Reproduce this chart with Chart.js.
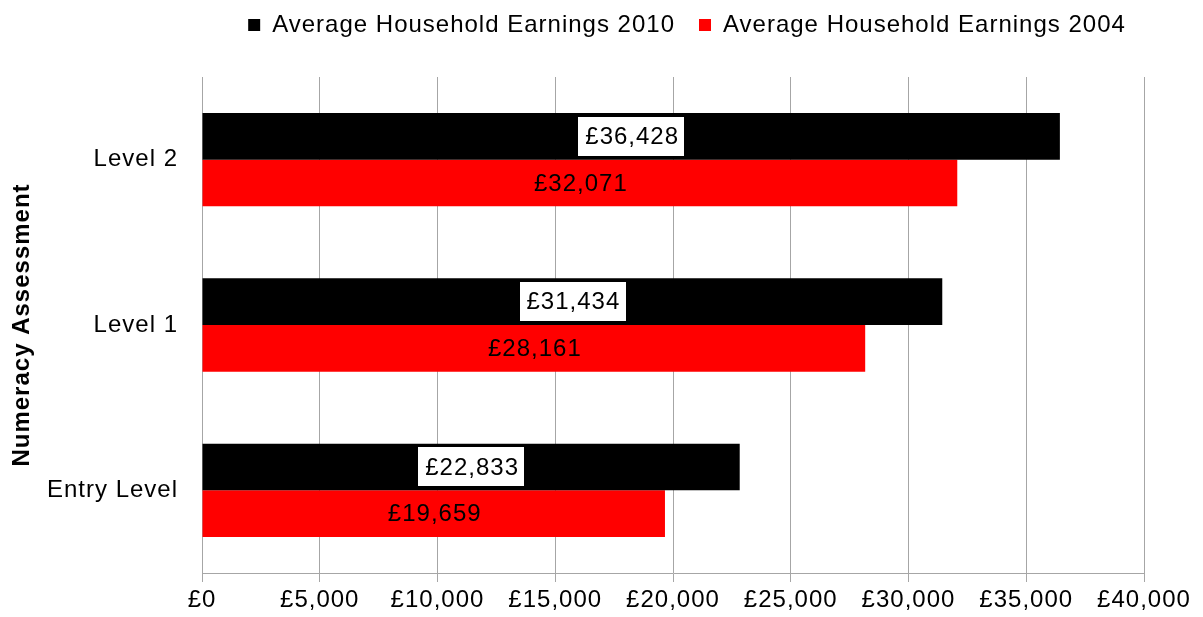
<!DOCTYPE html>
<html>
<head>
<meta charset="utf-8">
<script src="https://cdn.jsdelivr.net/npm/chart.js@4/dist/chart.umd.min.js"></script>
<style>
html,body{margin:0;padding:0;background:#fff;}
#wrap{width:1203px;height:617px;position:relative;}
</style>
</head>
<body>
<div id="wrap"><canvas id="c" width="1203" height="617"></canvas></div>
<script>
const categories = ['Level 2', 'Level 1', 'Entry Level'];
const seriesNames = ['Average Household Earnings 2010', 'Average Household Earnings 2004'];
const earnings2010 = [36428, 31434, 22833];
const earnings2004 = [32071, 28161, 19659];
const xTickMin = 0;
const xTickMax = 40000;
const xTickStep = 5000;
const axisTitle = 'Numeracy Assessment';

const FONT = "'Liberation Sans', Arial, sans-serif";
const SPACING = '1px';
const fmt = v => '£' + Number(v).toLocaleString('en-GB');

const spacingPlugin = {
  id: 'letterSpacing',
  beforeUpdate(chart) { chart.ctx.letterSpacing = SPACING; },
  beforeLayout(chart) { chart.ctx.letterSpacing = SPACING; },
  beforeDraw(chart) { chart.ctx.letterSpacing = SPACING; }
};

const labelPlugin = {
  id: 'barLabels',
  afterDatasetsDraw(chart) {
    const ctx = chart.ctx;
    ctx.save();
    ctx.letterSpacing = SPACING;
    ctx.font = '24px ' + FONT;
    ctx.textAlign = 'center';
    ctx.textBaseline = 'middle';
    chart.data.datasets.forEach((ds, di) => {
      const meta = chart.getDatasetMeta(di);
      meta.data.forEach((bar, i) => {
        const v = ds.data[i];
        const txt = fmt(v);
        const cx = (bar.x + bar.base) / 2;
        const cy = bar.y;
        if (di === 0) {
          const w = ctx.measureText(txt).width + 12;
          const h = 39;
          ctx.fillStyle = '#ffffff';
          ctx.fillRect(Math.round(cx - w / 2), Math.round(cy - h / 2), Math.round(w), h);
        }
        ctx.fillStyle = '#000000';
        ctx.fillText(txt, cx + 1, cy + 1);
      });
    });
    ctx.restore();
  }
};

const legendPlugin = {
  id: 'legendPlace',
  beforeInit(chart) {
    const origFit = chart.legend.fit;
    chart.legend.fit = function () {
      origFit.bind(chart.legend)();
      this.height = 74;
    };
  },
  afterLayout(chart) {
    const lg = chart.legend;
    lg.left = 214;
    lg.right = 1160;
    lg.top = -11;
  }
};

new Chart(document.getElementById('c'), {
  type: 'bar',
  data: {
    labels: categories,
    datasets: [
      { label: seriesNames[0], data: earnings2010, backgroundColor: '#000000', borderWidth: 0,
        categoryPercentage: 0.565, barPercentage: 1.0 },
      { label: seriesNames[1], data: earnings2004, backgroundColor: '#ff0000', borderWidth: 0,
        categoryPercentage: 0.565, barPercentage: 1.0 }
    ]
  },
  options: {
    indexAxis: 'y',
    responsive: false,
    animation: false,
    devicePixelRatio: 1,
    layout: { padding: { top: 3, right: 59, left: 0, bottom: 0 } },
    plugins: {
      legend: {
        position: 'top',
        labels: {
          font: { family: FONT, size: 24 },
          color: '#000',
          boxWidth: 12,
          boxHeight: 12,
          padding: 24
        }
      },
      tooltip: { enabled: false },
      title: { display: false }
    },
    scales: {
      x: {
        min: xTickMin,
        max: xTickMax,
        ticks: {
          stepSize: xTickStep,
          callback: v => fmt(v),
          font: { family: FONT, size: 24 },
          color: '#000',
          padding: 4,
          maxRotation: 0,
          autoSkip: false
        },
        grid: { color: '#a6a6a6', lineWidth: 1, tickLength: 9, drawOnChartArea: true },
        border: { color: '#a6a6a6', width: 1 },
        afterFit(scale) { scale.height = 44; }
      },
      y: {
        ticks: {
          font: { family: FONT, size: 24 },
          color: '#000',
          padding: 16
        },
        grid: { display: false },
        border: { color: '#a6a6a6', width: 1 },
        title: {
          display: true,
          text: axisTitle,
          font: { family: FONT, size: 24, weight: 'bold' },
          color: '#000',
          padding: { top: 8, bottom: 0 }
        },
        afterFit(scale) { scale.width = 202; }
      }
    }
  },
  plugins: [spacingPlugin, labelPlugin, legendPlugin]
});
</script>
</body>
</html>
